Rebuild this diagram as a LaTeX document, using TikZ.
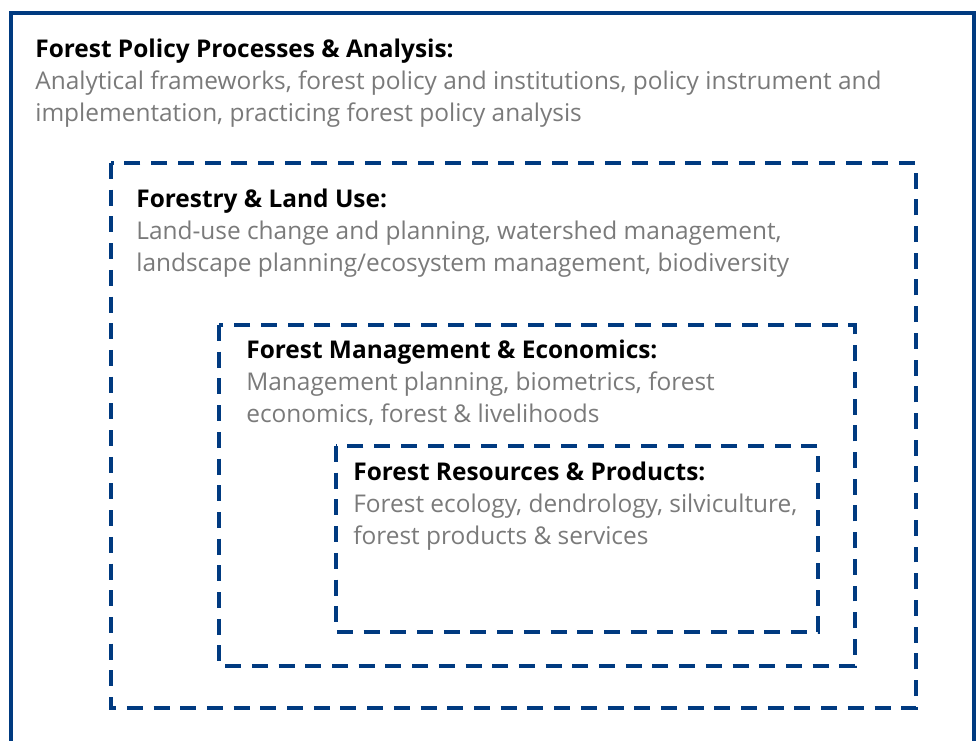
\documentclass[tikz,border=0pt]{standalone}
\usepackage{fontspec}
\setmainfont{Open Sans}
\usetikzlibrary{positioning}
\definecolor{navy}{HTML}{003A80}
\definecolor{lightgrey}{HTML}{7A7A7A}
\tikzstyle{frame} = [draw=navy, line width=2.8pt]
\tikzstyle{dashframe} = [draw=navy, line width=2.8pt, dash pattern=on 9.1pt off 6.1pt]
\tikzstyle{topic} = [anchor=base west, inner sep=0pt, align=left, text=lightgrey, font=\fontsize{13.9}{18.2}\selectfont]
\newcommand\head[1]{\textcolor{black}{\textbf{#1}}}

\begin{document}
\begin{tikzpicture}[x=0.02cm, y=-0.02cm]
\useasboundingbox (0,0) rectangle (976,740);
% Nested boxes
\draw [frame] (11,13) rectangle (974,780);
\draw [dashframe] (111,163) rectangle (916,708);
\draw [dashframe] (219,325) rectangle (855,666);
\draw [dashframe] (336,446) rectangle (818,632);

% Box texts (anchored at last line)
\node (policy) [topic] at (35,121) {\head{Forest Policy Processes \& Analysis:}\\
Analytical frameworks, forest policy and institutions, policy instrument and\\
implementation, practicing forest policy analysis};
\node (landuse) [topic] at (136,271) {\head{Forestry \& Land Use:}\\
Land-use change and planning, watershed management,\\
landscape planning/ecosystem management, biodiversity};
\node (management) [topic] at (246,422) {\head{Forest Management \& Economics:}\\
Management planning, biometrics, forest\\
economics, forest \& livelihoods};
\node (resources) [topic] at (353,544) {\head{Forest Resources \& Products:}\\
Forest ecology, dendrology, silviculture,\\
forest products \& services};
\end{tikzpicture}
\end{document}
